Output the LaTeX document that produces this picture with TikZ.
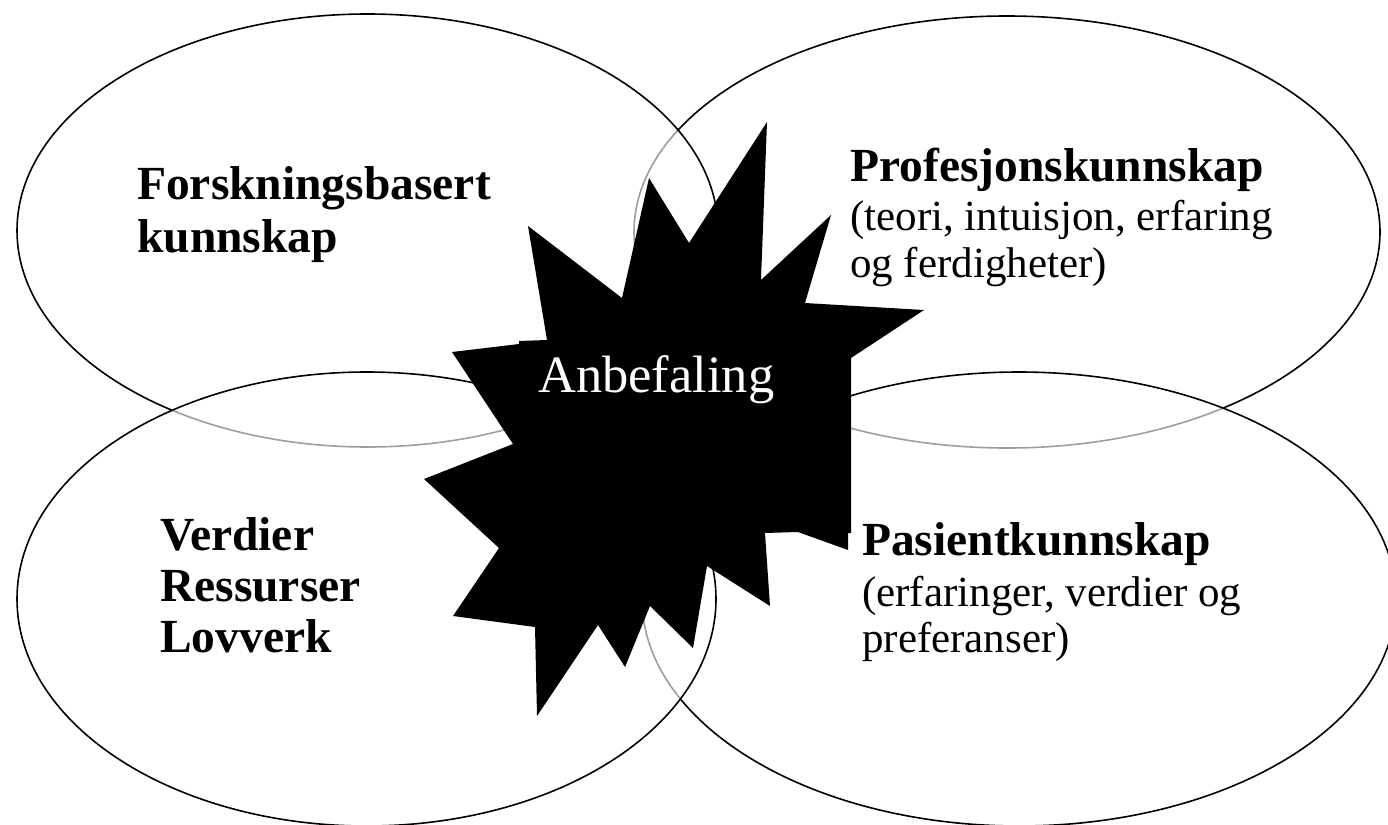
\documentclass[tikz,border=0pt]{standalone}
\usepackage{fontspec}
\setmainfont{Liberation Serif}
\begin{document}
\begin{tikzpicture}[x=1pt,y=-1pt,
  venn/.style={draw=black, line width=1.6pt, fill=white, fill opacity=0.62},
  boldlbl/.style={anchor=base west, inner sep=0pt, text=black, font=\fontsize{47.5}{50}\selectfont\bfseries},
  sublbl/.style={anchor=base west, inner sep=0pt, text=black, font=\fontsize{43}{47}\selectfont},
  centrelbl/.style={anchor=base west, inner sep=0pt, text=white, font=\fontsize{52.5}{56}\selectfont},
  burst/.style={fill=black, draw=none}]
\useasboundingbox (0,0) rectangle (1388,824);
\clip (0,0) rectangle (1388,824);
% circles (drawn back to front)
\draw[venn] (1007,232) ellipse [x radius=373pt, y radius=216pt];
\draw[venn] (367.5,230.5) ellipse [x radius=350.5pt, y radius=216.5pt];
\draw[venn] (1019,599) ellipse [x radius=377pt, y radius=227pt];
\draw[venn] (366.5,599) ellipse [x radius=349.5pt, y radius=227pt];
% explosion
\fill[burst] (767,122) -- (761,280) -- (831,215) -- (805,303) -- (924,310)
  -- (851,358) -- (851,533) -- (848,533) -- (848,550) -- (798,532) -- (765,533)
  -- (770,606) -- (707,566) -- (693,648) -- (650,606) -- (625,667) -- (598,625)
  -- (537,716) -- (535,627) -- (453,616) -- (499,548) -- (424,479) -- (513,444)
  -- (452,352) -- (519,344) -- (519,341) -- (547,340) -- (528,226) -- (622,298)
  -- (649,178) -- (689,243) -- cycle;
\node[centrelbl] (anb) at (538,392) {Anbefaling};
% labels
\node[boldlbl] (fb1) at (137,199) {Forskningsbasert};
\node[boldlbl] (fb2) at (137,252) {kunnskap};
\node[boldlbl] (pk1) at (850,181) {Profesjonskunnskap};
\node[sublbl] (pk2) at (850,230) {(teori, intuisjon, erfaring};
\node[sublbl] (pk3) at (850,277) {og ferdigheter)};
\node[boldlbl] (pa1) at (862,555) {Pasientkunnskap};
\node[sublbl] (pa2) at (862,606) {(erfaringer, verdier og};
\node[sublbl] (pa3) at (862,652) {preferanser)};
\node[boldlbl] (vr1) at (160,550) {Verdier};
\node[boldlbl] (vr2) at (160,601) {Ressurser};
\node[boldlbl] (vr3) at (160,652) {Lovverk};
\end{tikzpicture}
\end{document}
